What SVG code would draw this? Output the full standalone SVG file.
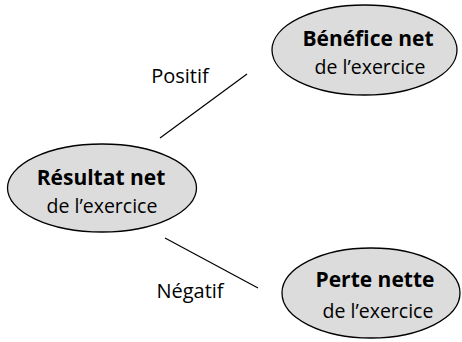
<svg xmlns="http://www.w3.org/2000/svg" width="462" height="342" viewBox="0 0 462 342">
<style>
.node ellipse{fill:#dcdcdc;stroke:#000;stroke-width:1.3}
text{font-family:"Open Sans",Lato,"Liberation Sans",sans-serif;fill:#000;text-anchor:middle}
.b{font-weight:bold;font-size:21px}
.r{font-size:19.5px}
.lbl{font-size:20px}
.edges line{stroke:#000;stroke-width:1.2}
</style>
<rect width="462" height="342" fill="#fff"/>
<g class="edges">
<line x1="160" y1="138" x2="247" y2="74"/>
<line x1="165" y1="238" x2="258" y2="288"/>
<text class="lbl" x="180" y="83">Positif</text>
<text class="lbl" x="190" y="298">Négatif</text>
</g>
<g id="resultat" class="node">
<ellipse cx="102" cy="188" rx="94.5" ry="44"/>
<text class="b" x="101" y="185">Résultat net</text>
<text class="r" x="102" y="213">de l’exercice</text>
</g>
<g id="benefice" class="node">
<ellipse cx="364.5" cy="50" rx="92.5" ry="45"/>
<text class="b" x="368" y="46">Bénéfice net</text>
<text class="r" x="370" y="74">de l’exercice</text>
</g>
<g id="perte" class="node">
<ellipse cx="371" cy="293" rx="89" ry="45"/>
<text class="b" x="375" y="287">Perte nette</text>
<text class="r" x="378" y="318">de l’exercice</text>
</g>
</svg>
